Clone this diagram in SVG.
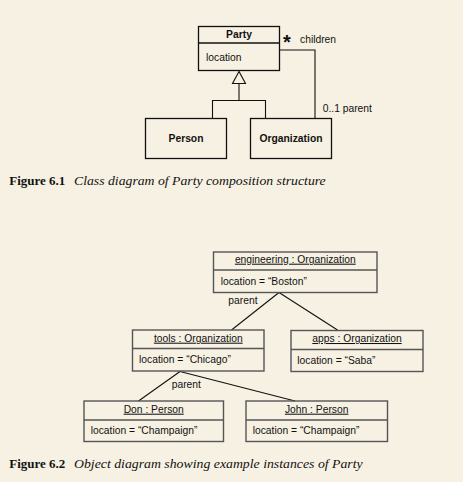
<svg xmlns="http://www.w3.org/2000/svg" width="463" height="482" viewBox="0 0 463 482">
<style>
.bg{fill:#f7f1e3}
.cls{fill:none;stroke:#111;stroke-width:1.3}
.obj{fill:none;stroke:#555;stroke-width:1.4}
.ln{fill:none;stroke:#111;stroke-width:1.1}
.t{font-family:"Liberation Sans",Arial,sans-serif;font-size:10.3px;fill:#111}
.b{font-weight:bold}
.m{text-anchor:middle}
.u{text-decoration:underline}
.cap{font-family:"Liberation Serif","Times New Roman",serif;font-size:13px;fill:#111}
</style>
<rect class="bg" x="0" y="0" width="463" height="482"/>
<g id="connectors">
<polygon class="ln" points="239,71.5 232.5,83.5 245.5,83.5" fill="none"/>
<polyline class="ln" points="239,83.5 239,100.5"/>
<polyline class="ln" points="212.5,118.5 212.5,100.5 265.5,100.5 265.5,118.5"/>
<polyline class="ln" points="279.5,50 315,50 315,118.5"/>
<line class="ln" x1="279" y1="292.5" x2="231.5" y2="330"/>
<line class="ln" x1="279" y1="292.5" x2="337.5" y2="330"/>
<line class="ln" x1="180" y1="371.5" x2="138.5" y2="401"/>
<line class="ln" x1="180" y1="371.5" x2="295" y2="401"/>
<text class="t b" x="283" y="49" style="font-size:20px">*</text>
<text class="t" x="300" y="42.7">children</text>
<text class="t" x="322.7" y="111.7">0..1 parent</text>
<text class="t" x="228.3" y="304">parent</text>
<text class="t" x="171.7" y="388.3">parent</text>
</g>
<g id="party">
<rect class="cls" x="198.5" y="26.5" width="81" height="44"/>
<line class="cls" x1="198.5" y1="43" x2="279.5" y2="43"/>
<text class="t b m" x="239" y="38.3">Party</text>
<text class="t" x="206" y="60.5">location</text>
</g>
<g id="person">
<rect class="cls" x="145.5" y="118.5" width="81" height="40"/>
<text class="t b m" x="186" y="142">Person</text>
</g>
<g id="organization">
<rect class="cls" x="250.5" y="118.5" width="81" height="40"/>
<text class="t b m" x="291" y="142">Organization</text>
</g>
<g id="engineering">
<rect class="obj" x="213.5" y="252" width="163.5" height="40.5"/>
<line class="obj" x1="213.5" y1="270" x2="377" y2="270"/>
<text class="t m u" x="295.3" y="262.7">engineering : Organization</text>
<text class="t" x="220.7" y="285">location = “Boston”</text>
</g>
<g id="tools">
<rect class="obj" x="132.5" y="330" width="131.5" height="41"/>
<line class="obj" x1="132.5" y1="348.5" x2="264" y2="348.5"/>
<text class="t m u" x="198.3" y="341.7">tools : Organization</text>
<text class="t" x="139" y="362.5">location = “Chicago”</text>
</g>
<g id="apps">
<rect class="obj" x="291" y="330.5" width="132" height="41"/>
<line class="obj" x1="291" y1="349.5" x2="423" y2="349.5"/>
<text class="t m u" x="357" y="342">apps : Organization</text>
<text class="t" x="297.3" y="364">location = “Saba”</text>
</g>
<g id="don">
<rect class="obj" x="84" y="401" width="139.5" height="40.5"/>
<line class="obj" x1="84" y1="420" x2="223.5" y2="420"/>
<text class="t m u" x="153.7" y="412.7">Don : Person</text>
<text class="t" x="90.7" y="433.5">location = “Champaign”</text>
</g>
<g id="john">
<rect class="obj" x="246" y="401" width="141.5" height="40.5"/>
<line class="obj" x1="246" y1="420" x2="387.5" y2="420"/>
<text class="t m u" x="316.7" y="412.7">John : Person</text>
<text class="t" x="252.7" y="433.5">location = “Champaign”</text>
</g>
<g id="captions">
<text class="cap b" x="9.3" y="185" textLength="56" lengthAdjust="spacingAndGlyphs">Figure 6.1</text>
<text class="cap" x="74" y="185" font-style="italic" textLength="251.7" lengthAdjust="spacingAndGlyphs">Class diagram of Party composition structure</text>
<text class="cap b" x="9.3" y="468.3" textLength="56" lengthAdjust="spacingAndGlyphs">Figure 6.2</text>
<text class="cap" x="74" y="468.3" font-style="italic" textLength="288.7" lengthAdjust="spacingAndGlyphs">Object diagram showing example instances of Party</text>
</g>
</svg>
